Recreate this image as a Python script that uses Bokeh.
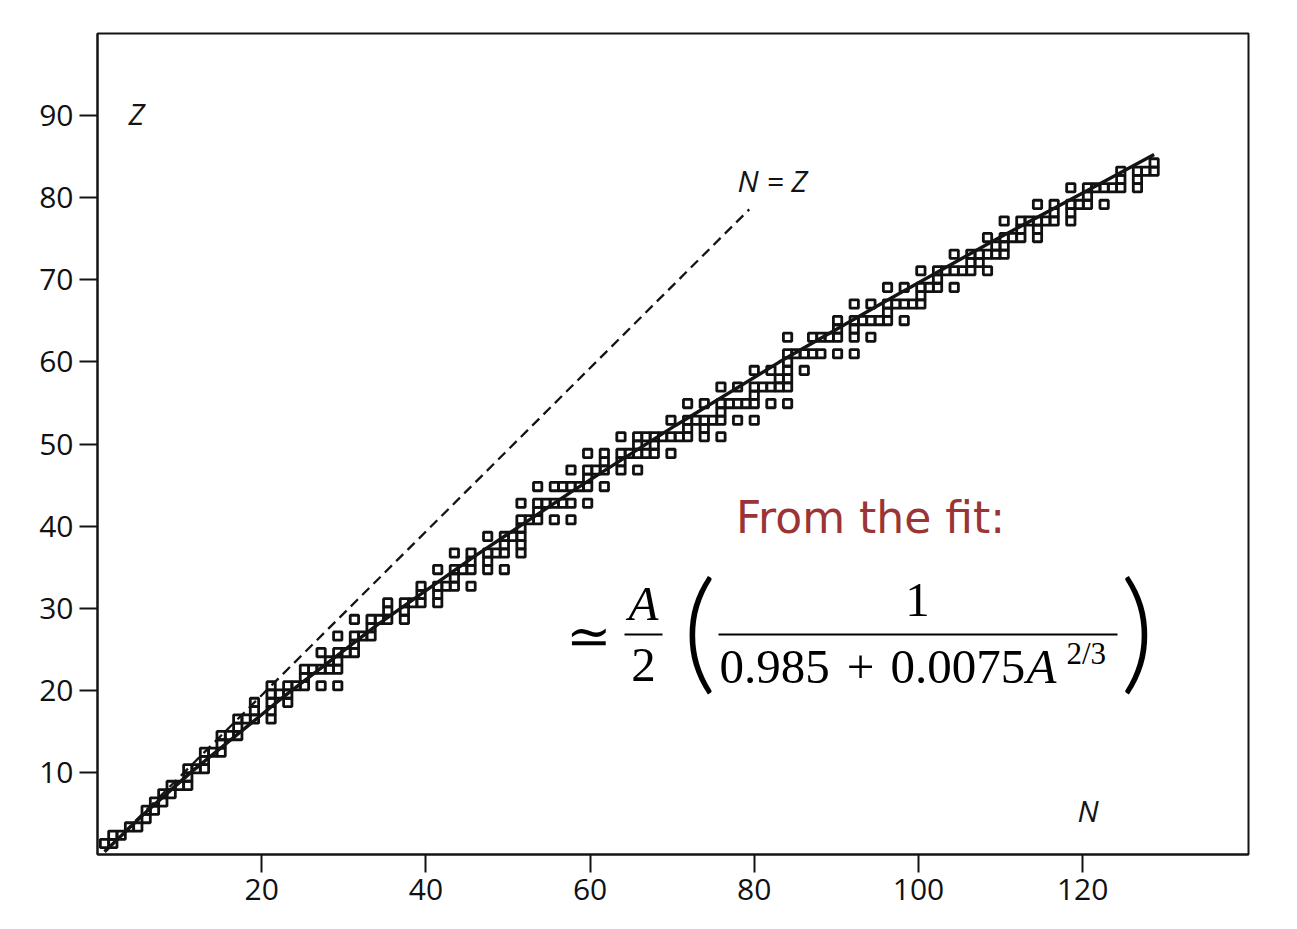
from bokeh.plotting import figure
from bokeh.models import Range1d, FixedTicker, Label, BoxAnnotation
from bokeh.embed import file_html
from bokeh.resources import INLINE

# ---- data: stable nuclei, proton number Z and the neutron numbers N of its stable isotopes
element_Z = list(range(1, 84))
stable_N = [
    [0, 1], [1, 2], [3, 4], [5], [5, 6], [6, 7], [7, 8], [8, 9, 10], [10], [10, 11, 12],
    [12], [12, 13, 14], [14], [14, 15, 16], [16], [16, 17, 18, 20], [18, 20], [18, 20, 22], [20, 21, 22], [20, 22, 23, 24, 26, 28],
    [24], [24, 25, 26, 27, 28], [27, 28], [26, 28, 29, 30], [30], [28, 30, 31, 32], [32], [30, 32, 33, 34, 36], [34, 36], [34, 36, 37, 38, 40],
    [38, 40], [38, 40, 41, 42, 44], [42], [40, 42, 43, 44, 46, 48], [44, 46], [42, 44, 46, 47, 48, 50], [48, 50], [46, 48, 49, 50], [50], [50, 51, 52, 54, 56],
    [52], [50, 52, 53, 54, 55, 56, 58], [], [52, 54, 55, 56, 57, 58, 60], [58], [56, 58, 59, 60, 62, 64], [60, 62], [58, 60, 62, 63, 64, 65, 66, 68], [64, 66], [62, 64, 65, 66, 67, 68, 69, 70, 72, 74],
    [70, 72], [68, 70, 71, 72, 73, 74, 76, 78], [74], [70, 72, 74, 75, 76, 77, 78, 80, 82], [78], [74, 76, 78, 79, 80, 81, 82], [81, 82], [78, 80, 82, 84], [82], [82, 83, 84, 85, 86, 88, 90],
    [], [82, 85, 86, 87, 88, 90, 92], [88, 90], [88, 90, 91, 92, 93, 94, 96], [94], [90, 92, 94, 95, 96, 97, 98], [98], [94, 96, 98, 99, 100, 102], [100], [98, 100, 101, 102, 103, 104, 106],
    [104, 105], [102, 104, 105, 106, 107, 108], [107, 108], [106, 108, 109, 110, 112], [110, 112], [108, 110, 111, 112, 113, 114, 116], [114, 116], [112, 114, 116, 117, 118, 120], [118], [116, 118, 119, 120, 121, 122, 124],
    [122, 124], [122, 124, 125, 126], [126],
]

# fitted valley of stability
fit_N = [0.0, 5.1, 10.4, 21.4, 32.7, 44.4, 56.4, 68.6, 81.0, 93.7, 106.5, 119.5, 126.0]
fit_Z = [0.0, 4.9, 9.6, 18.6, 27.3, 35.6, 43.6, 51.4, 59.0, 66.3, 73.5, 80.5, 84.0]

# dashed N = Z reference line
nz_N = [1.0, 77.4]
nz_Z = [1.0, 77.4]

x_ticks = [20, 40, 60, 80, 100, 120]
y_ticks = [10, 20, 30, 40, 50, 60, 70, 80, 90]

sq_N = []
sq_Z = []
for z, ns in zip(element_Z, stable_N):
    for n in ns:
        sq_N.append(n)
        sq_Z.append(z)

INK = "#141414"

p = figure(width=1290, height=921, x_range=Range1d(0, 140.2), y_range=Range1d(0, 100),
           output_backend="svg", toolbar_location=None,
           min_border_left=97, min_border_right=42, min_border_top=33, min_border_bottom=67,
           background_fill_color="white", border_fill_color="white")

# the printed scale of the squares differs slightly from the printed tick scale
p.extra_x_ranges = {"nz": Range1d(-0.84, 137.33), "px": Range1d(97, 1248)}
p.extra_y_ranges = {"nz": Range1d(-0.325, 98.59), "px": Range1d(854, 33)}

p.grid.visible = False
p.outline_line_color = INK
p.outline_line_width = 2

for ax, ticks in ((p.xaxis, x_ticks), (p.yaxis, y_ticks)):
    ax.ticker = FixedTicker(ticks=ticks, minor_ticks=[])
    ax.axis_line_color = INK
    ax.axis_line_width = 2
    ax.major_tick_line_color = INK
    ax.major_tick_line_width = 2
    ax.major_tick_out = 18
    ax.major_tick_in = 0
    ax.minor_tick_line_color = None
    ax.major_label_standoff = 6
    ax.major_label_text_font = "Open Sans"
    ax.major_label_text_font_size = "30px"
    ax.major_label_text_color = "#111111"

# squares for stable nuclei
p.rect(x=sq_N, y=sq_Z, width=1.0, height=1.0, x_range_name="nz", y_range_name="nz",
       fill_color=None, line_color="#111111", line_width=2.8)

# N = Z dashed line
p.line(nz_N, nz_Z, x_range_name="nz", y_range_name="nz", line_color=INK,
       line_width=2.3, line_dash="10 6")

# fit curve
p.line(fit_N, fit_Z, x_range_name="nz", y_range_name="nz", line_color=INK, line_width=3.4)


def lab(x, y, text, font="Open Sans", size=30, style="normal", color=INK, align="left"):
    p.add_layout(Label(x=x, y=y, x_range_name="px", y_range_name="px", text=text,
                       text_font=font, text_font_size=f"{size}px", text_font_style=style,
                       text_color=color, text_align=align, text_baseline="alphabetic"))


def bar(x0, x1, y):
    p.add_layout(BoxAnnotation(left=x0, right=x1, bottom=y - 1, top=y + 1,
                               x_range_name="px", y_range_name="px",
                               fill_color="black", fill_alpha=1, line_color=None))


lab(128, 113, "Z", style="italic")
lab(737, 180, "N = Z", style="italic")
lab(1077, 810, "N", style="italic")

lab(870, 517, "From the fit:", font="DejaVu Sans", size=44, color="#9b3434", align="center")

SERIF = "Liberation Serif"
PAREN = "Lato Light"
lab(588, 636, "≃", font="DejaVu Serif", size=54, color="black", align="center")
lab(643, 603, "A", font=SERIF, size=49, style="italic", color="black", align="center")
bar(624, 662, 634)
lab(643, 664, "2", font=SERIF, size=49, color="black", align="center")
lab(699, 625, "(", font=PAREN, size=133, color="black", align="center")
lab(917, 599, "1", font=SERIF, size=49, color="black", align="center")
bar(718, 1117, 634)
lab(719, 666, "0.985", font=SERIF, size=49, color="black")
lab(860, 666, "+", font=SERIF, size=49, color="black", align="center")
lab(890, 666, "0.0075", font=SERIF, size=49, color="black")
lab(1026, 666, "A", font=SERIF, size=49, style="italic", color="black")
lab(1066, 653, "2/3", font=SERIF, size=31, color="black")
lab(1137, 625, ")", font=PAREN, size=133, color="black", align="center")

open("out.html", "w").write(file_html(p, INLINE))
